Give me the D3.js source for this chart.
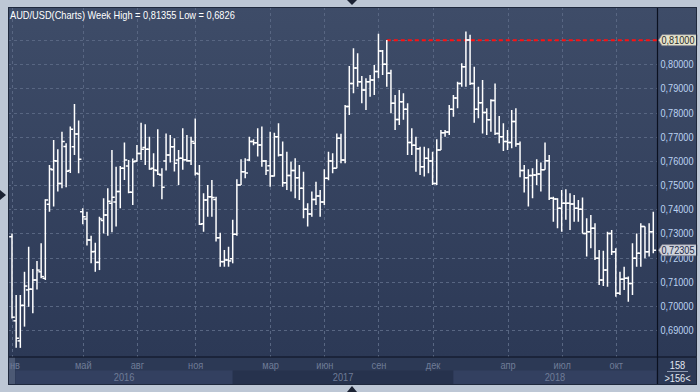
<!DOCTYPE html>
<html><head><meta charset="utf-8">
<script src="https://cdn.jsdelivr.net/npm/d3@7"></script>
<style>
html,body{margin:0;padding:0;background:#bdc7d5;overflow:hidden;}
svg{display:block;}
text{font-family:"Liberation Sans",Arial,sans-serif;}
</style></head><body>
<svg id="chart" width="700" height="392"></svg>
<script>
// ---- DATA (weekly AUD/USD bars) ----
const opens = [
.7286,.6938,.6855,.7002,.7066,.7069,.7107,.7141,.7114,.7421,
.7563,.7600,.7507,.7660,.7560,.7659,.7711,.7390,.7360,.7273,
.7225,.7180,.7353,.7376,.7425,.7430,.7473,.7570,.7579,.7470,
.7600,.7631,.7656,.7648,.7570,.7560,.7542,.7600,.7625,.7659,
.7604,.7611,.7605,.7601,.7673,.7546,.7340,.7438,.7452,.7440,
.7282,.7183,.7190,.7195,.7296,.7500,.7555,.7604,.7680,.7675,
.7666,.7600,.7580,.7538,.7700,.7625,.7510,.7540,.7560,.7530,
.7487,.7400,.7380,.7440,.7455,.7430,.7528,.7600,.7570,.7694,
.7604,.7825,.7921,.7985,.7928,.7894,.7928,.7935,.7970,.8055,
.8000,.7963,.7839,.7772,.7845,.7814,.7676,.7665,.7650,.7576,
.7611,.7600,.7507,.7645,.7717,.7720,.7814,.7860,.7921,.7990,
.8101,.7921,.7814,.7841,.7800,.7770,.7850,.7714,.7700,.7680,
.7676,.7763,.7670,.7560,.7530,.7540,.7542,.7546,.7563,.7601,
.7445,.7442,.7404,.7425,.7425,.7422,.7404,.7400,.7300,.7307,
.7321,.7197,.7107,.7148,.7300,.7224,.7052,.7110,.7114,.7093,
.7197,.7218,.7328,.7224,.7307];
const highs = [
.7300,.7045,.7045,.7141,.7245,.7153,.7186,.7259,.7441,.7583,
.7687,.7648,.7721,.7673,.7742,.7836,.7767,.7404,.7390,.7290,
.7261,.7369,.7445,.7487,.7645,.7576,.7579,.7676,.7604,.7610,
.7666,.7758,.7752,.7700,.7632,.7731,.7570,.7714,.7707,.7694,
.7645,.7735,.7707,.7700,.7776,.7583,.7466,.7500,.7521,.7452,
.7303,.7231,.7245,.7356,.7524,.7607,.7611,.7700,.7690,.7735,
.7742,.7604,.7721,.7717,.7756,.7680,.7638,.7597,.7611,.7583,
.7555,.7425,.7473,.7514,.7480,.7565,.7638,.7632,.7714,.7712,
.7832,.7993,.8066,.8046,.7952,.7942,.7956,.7997,.8126,.8059,
.8101,.7977,.7873,.7894,.7880,.7839,.7735,.7700,.7659,.7659,
.7652,.7638,.7690,.7728,.7728,.7832,.7873,.7928,.8004,.81355,
.8122,.7990,.7907,.7935,.7818,.7855,.7921,.7786,.7756,.7728,
.7811,.7818,.7680,.7583,.7565,.7570,.7607,.7593,.7676,.7625,
.7452,.7445,.7480,.7483,.7466,.7459,.7438,.7449,.7363,.7376,
.7342,.7231,.7228,.7307,.7314,.7238,.7141,.7162,.7121,.7259,
.7300,.7342,.7328,.7342,.7390];
const lows = [
.6948,.6827,.6826,.6914,.6996,.6969,.7068,.7114,.7107,.7390,
.7411,.7473,.7487,.7491,.7550,.7625,.7549,.7338,.7250,.7176,
.7141,.7148,.7300,.7290,.7305,.7328,.7404,.7521,.7466,.7418,
.7597,.7604,.7583,.7563,.7493,.7542,.7441,.7560,.7593,.7556,
.7500,.7563,.7597,.7583,.7540,.7335,.7307,.7369,.7369,.7266,
.7162,.7162,.7162,.7176,.7290,.7500,.7528,.7600,.7665,.7618,
.7576,.7542,.7493,.7535,.7618,.7493,.7480,.7473,.7445,.7438,
.7363,.7328,.7369,.7418,.7369,.7418,.7520,.7549,.7570,.7590,
.7590,.7790,.7880,.7907,.7839,.7811,.7866,.7873,.7942,.7956,
.7907,.7797,.7728,.7749,.7770,.7625,.7625,.7555,.7542,.7535,
.7549,.7500,.7500,.7645,.7700,.7707,.7783,.7818,.7907,.7907,
.7914,.7758,.7777,.7714,.7707,.7721,.7707,.7673,.7641,.7645,
.7652,.7659,.7532,.7469,.7411,.7445,.7500,.7473,.7563,.7438,
.7348,.7321,.7307,.7356,.7314,.7348,.7348,.7300,.7204,.7238,
.7190,.7086,.7082,.7079,.7211,.7038,.7045,.7066,.7017,.7045,
.7162,.7162,.7197,.7204,.7218];
const closes = [
.6953,.6866,.7002,.7082,.7069,.7107,.7148,.7121,.7438,.7567,
.7601,.7507,.7680,.7557,.7731,.7711,.7607,.7369,.7273,.7224,
.7180,.7360,.7376,.7433,.7450,.7473,.7570,.7604,.7470,.7597,
.7631,.7648,.7648,.7567,.7562,.7545,.7491,.7625,.7659,.7590,
.7611,.7605,.7601,.7680,.7549,.7338,.7438,.7452,.7449,.7282,
.7183,.7190,.7186,.7296,.7500,.7555,.7550,.7680,.7675,.7666,
.7600,.7560,.7538,.7700,.7625,.7510,.7540,.7560,.7530,.7487,
.7400,.7380,.7440,.7455,.7430,.7528,.7600,.7570,.7694,.7604,
.7825,.7921,.7985,.7928,.7894,.7928,.7935,.7970,.8055,.8000,
.7963,.7839,.7772,.7845,.7814,.7676,.7665,.7650,.7576,.7611,
.7600,.7507,.7645,.7717,.7720,.7814,.7860,.7921,.7990,.8101,
.7921,.7814,.7841,.7800,.7770,.7850,.7714,.7700,.7680,.7676,
.7763,.7670,.7560,.7530,.7540,.7542,.7546,.7563,.7601,.7445,
.7442,.7404,.7425,.7425,.7422,.7404,.7400,.7300,.7307,.7321,
.7197,.7107,.7148,.7300,.7224,.7052,.7110,.7114,.7093,.7197,
.7218,.7328,.7224,.7307,.72305];

const yTicks = [0.69,0.70,0.71,0.72,0.73,0.74,0.75,0.76,0.77,0.78,0.79,0.80,0.81];
const monthIdx = [0,17,30,44,62,75,88,101,119,132,145];
const monthLabels = ['янв','май','авг','ноя','мар','июн','сен','дек','апр','июл','окт'];
const yearIdx = [0,53,106];
const yearLabels = ['2016','2017','2018'];
const levelValue = 0.81;      // user horizontal level
const levelFromIdx = 90;
const titleText = 'AUD/USD(Charts) Week High = 0,81355 Low = 0,6826';
const barCount = ['158','>156<'];

// ---- LAYOUT ----
const svg = d3.select('#chart');
const P = {l:8, t:7, r:657.5, b:357, right:697, bottom:385};
const n = closes.length;
const x = d3.scaleLinear().domain([0, n-1]).range([12, 653.3]);
const y = d3.scaleLinear().domain([0.69, 0.81]).range([330, 40.15]);
const fmt = v => v.toFixed(5).replace('.', ',');
// the reference uses a narrow UI font: squeeze Liberation Sans horizontally
function squeeze(sel, f){
  sel.each(function(){
    const w = this.getComputedTextLength();
    d3.select(this).attr('textLength', w*(f||0.83)).attr('lengthAdjust','spacingAndGlyphs');
  });
}

const defs = svg.append('defs');
const gr = defs.append('linearGradient').attr('id','bg')
  .attr('gradientUnits','userSpaceOnUse').attr('x1',0).attr('y1',P.t).attr('x2',0).attr('y2',P.b);
gr.append('stop').attr('offset',0).attr('stop-color','#3e4c68');
gr.append('stop').attr('offset',1).attr('stop-color','#2c3956');
defs.append('clipPath').attr('id','plotclip').append('rect')
  .attr('x',P.l+1).attr('y',P.t+1).attr('width',P.r-P.l-1).attr('height',P.b-P.t-1);
defs.append('clipPath').attr('id','axclip').append('rect')
  .attr('x',P.l+1.5).attr('y',P.b).attr('width',P.r-P.l-1.5).attr('height',P.bottom-P.b);

// outer background + panel
svg.append('rect').attr('width',700).attr('height',392).attr('fill','#bdc7d5');
svg.append('rect').attr('x',P.l).attr('y',P.t).attr('width',P.right-P.l).attr('height',P.bottom-P.t)
  .attr('fill','url(#bg)');

// bottom axis rows
svg.append('rect').attr('x',P.l).attr('y',P.b).attr('width',P.right-P.l).attr('height',P.bottom-P.b).attr('fill','#2c3955');
const yb = yearIdx.map((d,k)=> k===0 ? x(d)+3.5 : x(d));
yb.push(656.5);
svg.append('g').selectAll('rect').data(yearLabels).join('rect')
  .attr('x',(d,k)=>yb[k]).attr('y',370.5).attr('width',(d,k)=>yb[k+1]-yb[k]).attr('height',13.5)
  .attr('fill',(d,k)=> k%2===0 ? '#334060' : '#26324d');
svg.append('rect').attr('x',9).attr('y',357.5).attr('width',6).attr('height',26.5).attr('fill','#4c5974');

// grid
const grid = svg.append('g').attr('clip-path','url(#plotclip)')
  .attr('stroke','#586682').attr('stroke-width',1).attr('stroke-dasharray','3,3');
grid.selectAll('line.h').data(yTicks).join('line').attr('class','h')
  .attr('x1',P.l).attr('x2',P.r).attr('y1',d=>Math.round(y(d))+0.5).attr('y2',d=>Math.round(y(d))+0.5);
grid.selectAll('line.v').data(monthIdx).join('line').attr('class','v')
  .attr('y1',P.t).attr('y2',P.b).attr('x1',d=>Math.round(x(d))+0.5).attr('x2',d=>Math.round(x(d))+0.5);

// title
svg.append('text').attr('x',10).attr('y',18.5).attr('fill','#ffffff').attr('font-size',11).text(titleText)
  .call(squeeze, 0.84);

// level line
svg.append('line').attr('x1',x(levelFromIdx)).attr('x2',P.r).attr('y1',y(levelValue)).attr('y2',y(levelValue))
  .attr('stroke','#ff1010').attr('stroke-width',2).attr('stroke-dasharray','4,3');

// OHLC bars
const bars = d3.range(n).map(i=>({i,o:opens[i],h:highs[i],l:lows[i],c:closes[i]}));
const bg = svg.append('g').attr('clip-path','url(#plotclip)').attr('stroke','#ffffff').attr('stroke-width',1.5);
bg.selectAll('line.hl').data(bars).join('line').attr('class','hl')
  .attr('x1',d=>x(d.i)).attr('x2',d=>x(d.i)).attr('y1',d=>y(d.h)).attr('y2',d=>y(d.l));
bg.selectAll('line.op').data(bars).join('line').attr('class','op')
  .attr('x1',d=>x(d.i)-2.8).attr('x2',d=>x(d.i)).attr('y1',d=>y(d.o)).attr('y2',d=>y(d.o));
bg.selectAll('line.cl').data(bars).join('line').attr('class','cl')
  .attr('x1',d=>x(d.i)).attr('x2',d=>x(d.i)+2.8).attr('y1',d=>y(d.c)).attr('y2',d=>y(d.c));

// right axis
const ax = svg.append('g').attr('transform',`translate(${P.r+1},0)`)
  .call(d3.axisRight(y).tickValues(yTicks).tickSize(0).tickPadding(2).tickFormat(fmt));
ax.select('.domain').remove();
ax.selectAll('text').attr('fill','#bcd3f2').attr('font-size',11)
  .attr('font-family','"Liberation Sans",Arial,sans-serif').call(squeeze, 0.83);

// bottom month axis (clipped at the panel's left edge, like the reference)
const bxWrap = svg.append('g').attr('clip-path','url(#axclip)');
const bx = bxWrap.append('g').attr('transform',`translate(0,${P.b})`)
  .call(d3.axisBottom(x).tickValues(monthIdx).tickSize(0).tickPadding(4).tickFormat((d,k)=>monthLabels[k]));
bx.select('.domain').remove();
bx.selectAll('text').attr('fill','#6f7c97').attr('font-size',11).attr('dy','0.71em')
  .attr('font-family','"Liberation Sans",Arial,sans-serif').call(squeeze, 0.84);
// years
svg.append('g').selectAll('text').data(yearLabels).join('text')
  .attr('x',(d,k)=>(yb[k]+yb[k+1])/2).attr('y',381).attr('text-anchor','middle')
  .attr('fill','#6f7c97').attr('font-size',11).text(d=>d).call(squeeze, 0.84);

// separators
svg.append('line').attr('x1',P.l).attr('x2',P.right).attr('y1',P.b).attr('y2',P.b).attr('stroke','#0b1120').attr('stroke-width',1.2);
svg.append('line').attr('x1',P.r).attr('x2',P.r).attr('y1',P.t).attr('y2',P.bottom).attr('stroke','#0b1120').attr('stroke-width',1.2);

// bottom-right counter box
svg.append('text').attr('x',677.5).attr('y',368.5).attr('text-anchor','middle').attr('fill','#e2e8f2').attr('font-size',11).text(barCount[0]).call(squeeze,0.84);
svg.append('line').attr('x1',667).attr('x2',688).attr('y1',371.5).attr('y2',371.5).attr('stroke','#8a96ad').attr('stroke-width',1);
svg.append('text').attr('x',677.5).attr('y',381.5).attr('text-anchor','middle').attr('fill','#e2e8f2').attr('font-size',11).text(barCount[1]).call(squeeze,0.84);

// price tags
function tag(v, fill, txtFill, label){
  const yy = y(v);
  svg.append('path').attr('d',`M${P.r+1},${yy} L${P.r+4.5},${yy-5.5} L697,${yy-5.5} L697,${yy+5.5} L${P.r+4.5},${yy+5.5} Z`)
    .attr('fill',fill).attr('stroke','#7d8290').attr('stroke-width',0.8);
  svg.append('text').attr('x',P.r+4).attr('y',yy+4).attr('fill',txtFill).attr('font-size',11).text(label).call(squeeze,0.83);
}
tag(levelValue,'#e3e2cb','#2a2a2a',fmt(levelValue));
tag(closes[n-1],'#cfd3dc','#1d2c4a',fmt(closes[n-1]));

// panel frame
svg.append('rect').attr('x',P.l+0.5).attr('y',P.t+0.5).attr('width',P.right-P.l-1).attr('height',P.bottom-P.t-1)
  .attr('fill','none').attr('stroke','#1f293d').attr('stroke-width',1);

// little navigation triangles
svg.append('path').attr('d','M347,0 L357,0 L352,5 Z').attr('fill','#1b2233');
svg.append('path').attr('d','M0,190 L6,195 L0,200 Z').attr('fill','#1b2233');
svg.append('path').attr('d','M347,392 L357,392 L352,386 Z').attr('fill','#1b2233');
</script>
</body></html>
